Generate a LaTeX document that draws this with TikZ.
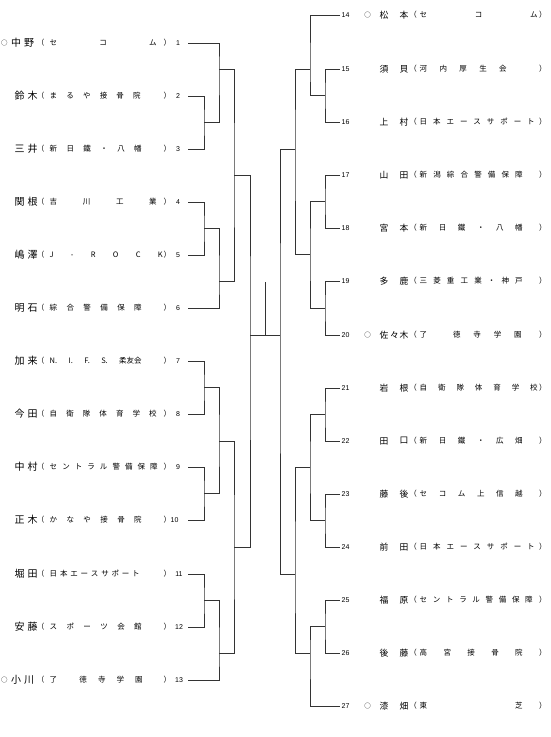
\documentclass[tikz,border=0pt]{standalone}
\usepackage{fontspec}
\newfontfamily\jpf{Noto Sans CJK JP}
\newfontfamily\latf{Liberation Sans}
\tikzset{
  br/.style={line width=0.9pt, draw=black!80},
  lname/.style={font=\jpf\fontsize{10}{10}\selectfont, inner sep=0pt},
  rname/.style={font=\jpf\fontsize{8.8}{8.8}\selectfont, inner sep=0pt},
  org/.style={font=\jpf\fontsize{7.5}{7.5}\selectfont, inner sep=0pt},
  num/.style={font=\latf\fontsize{7}{7}\selectfont, inner sep=0pt},
  mk/.style={font=\jpf\fontsize{6.5}{6.5}\selectfont, inner sep=0pt},
}
% #1 id, #2 y, #3 name shift, #4 #5 name chars, #6 org width, #7 org, #8 number, #9 number x
\newcommand\LRow[9]{%
  \node[lname] (n#1a) at ({19.5+(#3)},#2) {#4};
  \node[lname] (n#1b) at ({32.5+(#3)},#2) {#5};
  \node[org,anchor=east] (pl#1) at (44.5,#2) {（};
  \node[org,anchor=west] (o#1) at (49.5,#2) {\makebox[#6pt][s]{#7}};
  \node[org,anchor=west] (pr#1) at (163.5,#2) {）};
  \node[num] (d#1) at (#9,#2) {#8};
  \coordinate (L#1) at (188,#2);
}
% #1 id, #2 y, #3 #4 name chars, #5 org width, #6 org
\newcommand\RRow[6]{%
  \node[num,anchor=west] (d#1) at (341.5,#2) {#1};
  \node[rname] (n#1a) at (384,#2) {#3};
  \node[rname] (n#1b) at (404,#2) {#4};
  \node[org,anchor=east] (pl#1) at (417,#2) {（};
  \node[org,anchor=west] (o#1) at (419.5,#2) {\makebox[#5pt][s]{#6}};
  \node[org,anchor=west] (pr#1) at (539,#2) {）};
  \coordinate (R#1) at (340,#2);
}
\begin{document}
\begin{tikzpicture}[x=1pt,y=-1pt]
\useasboundingbox[fill=white] (0,0) rectangle (550,737);

% ---------- left entries ----------
\LRow{1}{43}{-3.5}{中}{野}{107}{セ\hfill コ\hfill ム}{1}{178}
\LRow{2}{96}{0}{鈴}{木}{91}{ま\hfill る\hfill や\hfill 接\hfill 骨\hfill 院}{2}{178}
\LRow{3}{149}{0}{三}{井}{92}{新\hfill 日\hfill 鐵\hfill ・\hfill 八\hfill 幡}{3}{178}
\LRow{4}{202}{0}{関}{根}{107}{吉\hfill 川\hfill 工\hfill 業}{4}{178}
\LRow{5}{255}{0}{嶋}{澤}{113}{J\hfill -\hfill R\hfill O\hfill C\hfill K}{5}{178}
\LRow{6}{308}{0}{明}{石}{92}{綜\hfill 合\hfill 警\hfill 備\hfill 保\hfill 障}{6}{178}
\LRow{7}{361}{0}{加}{来}{92}{N.\hfill I.\hfill F.\hfill S.\hfill 柔友会}{7}{178}
\LRow{8}{414}{0}{今}{田}{107}{自\hfill 衛\hfill 隊\hfill 体\hfill 育\hfill 学\hfill 校}{8}{178}
\LRow{9}{467}{0}{中}{村}{108}{セ\hfill ン\hfill ト\hfill ラ\hfill ル\hfill 警\hfill 備\hfill 保\hfill 障}{9}{178}
\LRow{10}{520}{0}{正}{木}{92}{か\hfill な\hfill や\hfill 接\hfill 骨\hfill 院}{10}{174.5}
\LRow{11}{574}{0}{堀}{田}{90}{日\hfill 本\hfill エ\hfill ー\hfill ス\hfill サ\hfill ポ\hfill ー\hfill ト}{11}{179}
\LRow{12}{627}{0}{安}{藤}{92}{ス\hfill ポ\hfill ー\hfill ツ\hfill 会\hfill 館}{12}{179}
\LRow{13}{680}{-3.5}{小}{川}{93}{了\hfill\hfill 徳\hfill 寺\hfill 学\hfill 園}{13}{179}
\node[mk] (m1) at (4.5,43) {○};
\node[mk] (m13) at (4.5,680) {○};

% ---------- right entries ----------
\RRow{14}{15}{松}{本}{118}{セ\hfill コ\hfill ム}
\RRow{15}{69}{須}{貝}{87}{河\hfill 内\hfill 厚\hfill 生\hfill 会}
\RRow{16}{122}{上}{村}{115}{日\hfill 本\hfill エ\hfill ー\hfill ス\hfill サ\hfill ポ\hfill ー\hfill ト}
\RRow{17}{175}{山}{田}{103}{新\hfill 潟\hfill 綜\hfill 合\hfill 警\hfill 備\hfill 保\hfill 障}
\RRow{18}{228}{宮}{本}{103}{新\hfill 日\hfill 鐵\hfill ・\hfill 八\hfill 幡}
\RRow{19}{281}{多}{鹿}{103}{三\hfill 菱\hfill 重\hfill 工\hfill 業\hfill ・\hfill 神\hfill 戸}
\RRow{20}{335}{佐}{木}{102}{了\hfill\hfill 徳\hfill 寺\hfill 学\hfill 園}
\node[rname] (n20c) at (394.5,335) {々};
\RRow{21}{388}{岩}{根}{118}{自\hfill 衛\hfill 隊\hfill 体\hfill 育\hfill 学\hfill 校}
\RRow{22}{441}{田}{口}{103}{新\hfill 日\hfill 鐵\hfill ・\hfill 広\hfill 畑}
\RRow{23}{494}{藤}{後}{103}{セ\hfill コ\hfill ム\hfill 上\hfill 信\hfill 越}
\RRow{24}{547}{前}{田}{115}{日\hfill 本\hfill エ\hfill ー\hfill ス\hfill サ\hfill ポ\hfill ー\hfill ト}
\RRow{25}{600}{福}{原}{113}{セ\hfill ン\hfill ト\hfill ラ\hfill ル\hfill 警\hfill 備\hfill 保\hfill 障}
\RRow{26}{653}{後}{藤}{103}{高\hfill 宮\hfill 接\hfill 骨\hfill 院}
\RRow{27}{706}{漆}{畑}{103}{東\hfill 芝}
\node[mk] (m14) at (367.5,15) {○};
\node[mk] (m20) at (367.5,335) {○};
\node[mk] (m27) at (367.5,706) {○};

% ---------- left bracket ----------
\coordinate (a23) at (204,122.5);
\coordinate (b13) at (219,69);
\coordinate (a45) at (204,228.5);
\coordinate (b46) at (219,281.5);
\coordinate (c16) at (234,175);
\coordinate (a78) at (204,387.5);
\coordinate (a910) at (204,493.5);
\coordinate (b710) at (219,441);
\coordinate (a1112) at (204,600.5);
\coordinate (b1113) at (219,653.5);
\coordinate (c713) at (234,547);
\coordinate (dL) at (250,335);
\draw[br] (L2) -| (a23) |- (L3);
\draw[br] (L1) -| (b13) |- (a23);
\draw[br] (L4) -| (a45) |- (L5);
\draw[br] (a45) -| (b46) |- (L6);
\draw[br] (b13) -| (c16) |- (b46);
\draw[br] (L7) -| (a78) |- (L8);
\draw[br] (L9) -| (a910) |- (L10);
\draw[br] (a78) -| (b710) |- (a910);
\draw[br] (L11) -| (a1112) |- (L12);
\draw[br] (a1112) -| (b1113) |- (L13);
\draw[br] (b710) -| (c713) |- (b1113);
\draw[br] (c16) -| (dL) |- (c713);

% ---------- centre ----------
\coordinate (top) at (265,282);
\coordinate (mid) at (265,335);
\coordinate (dR) at (280,335);
\draw[br] (dL) -- (dR);
\draw[br] (mid) -- (top);

% ---------- right bracket ----------
\coordinate (a1516) at (325,95.5);
\coordinate (b1416) at (310,69);
\coordinate (a1718) at (325,201.5);
\coordinate (a1920) at (325,308);
\coordinate (b1720) at (310,254.5);
\coordinate (c1420) at (295,149);
\coordinate (a2122) at (325,414.5);
\coordinate (a2324) at (325,520.5);
\coordinate (b2124) at (310,467.5);
\coordinate (a2526) at (325,626.5);
\coordinate (b2527) at (310,653);
\coordinate (c2127) at (295,574);
\draw[br] (R15) -| (a1516) |- (R16);
\draw[br] (R14) -| (b1416) |- (a1516);
\draw[br] (R17) -| (a1718) |- (R18);
\draw[br] (R19) -| (a1920) |- (R20);
\draw[br] (a1718) -| (b1720) |- (a1920);
\draw[br] (b1416) -| (c1420) |- (b1720);
\draw[br] (R21) -| (a2122) |- (R22);
\draw[br] (R23) -| (a2324) |- (R24);
\draw[br] (a2122) -| (b2124) |- (a2324);
\draw[br] (R25) -| (a2526) |- (R26);
\draw[br] (a2526) -| (b2527) |- (R27);
\draw[br] (b2124) -| (c2127) |- (b2527);
\draw[br] (c1420) -| (dR) |- (c2127);
\end{tikzpicture}
\end{document}
